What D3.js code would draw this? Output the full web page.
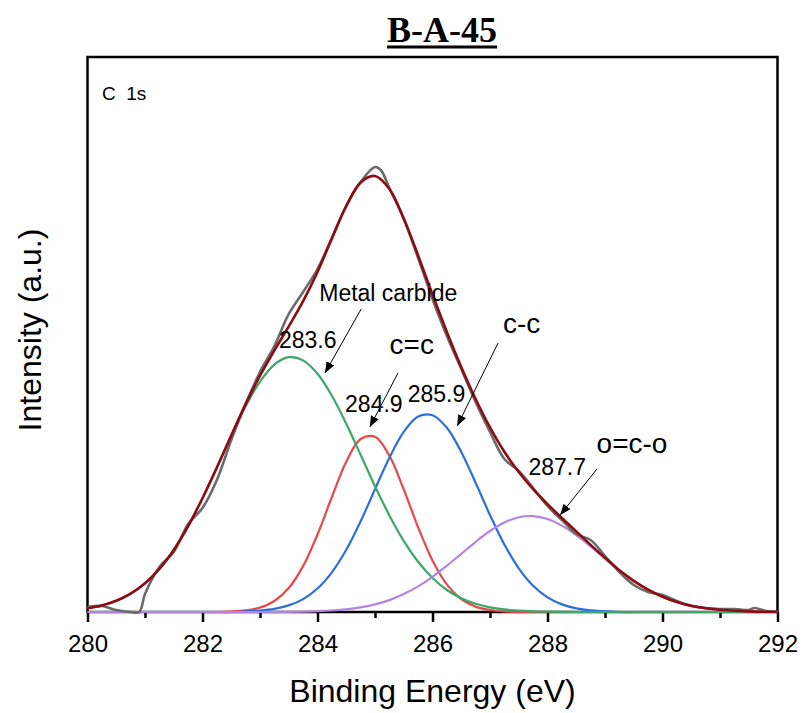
<!DOCTYPE html>
<html>
<head>
<meta charset="utf-8">
<script src="https://cdn.jsdelivr.net/npm/d3@7"></script>
<style>
  body { margin: 0; background: #fff; }
  text { font-family: "Liberation Sans", Arial, sans-serif; fill: #000; }
</style>
</head>
<body>
<svg width="803" height="713"></svg>
<script>
// energy grid of the fitted curves (eV)
var fitEnergy = [280, 280.25, 280.5, 280.75, 281, 281.25, 281.5, 281.75, 282, 282.25,
  282.5, 282.75, 283, 283.25, 283.5, 283.75, 284, 284.25, 284.5, 284.75,
  285, 285.25, 285.5, 285.75, 286, 286.25, 286.5, 286.75, 287, 287.25,
  287.5, 287.75, 288, 288.25, 288.5, 288.75, 289, 289.25, 289.5, 289.75,
  290, 290.25, 290.5, 290.75, 291, 291.25, 291.5, 291.75, 292];

// fitted components (a.u.)
var metalCarbide = [3.7, 6.6, 11.2, 18.3, 28.7, 43.1, 62.1, 85.9, 113.8, 144.5,
  176.1, 205.7, 230.4, 247.4, 254.8, 251.6, 238.2, 216.3, 188.3, 157.2,
  125.8, 96.6, 71.1, 50.2, 34.0, 22.0, 13.7, 8.2, 4.7, 2.6,
  1.4, 0.7, 0.3, 0.1, 0, 0, 0, 0, 0, 0,
  0, 0, 0, 0, 0, 0, 0, 0, 0];
var cDoubleC = [0, 0, 0, 0, 0, 0, 0, 0, 0, 0,
  0.5, 1.6, 4.4, 11.0, 24.0, 45.9, 77.5, 115.0, 150.3, 173.0,
  175.2, 156.2, 122.6, 84.7, 51.5, 27.6, 13.0, 5.4, 2.0, 0.6,
  0, 0, 0, 0, 0, 0, 0, 0, 0, 0,
  0, 0, 0, 0, 0, 0, 0, 0, 0];
var cSingleC = [0, 0, 0, 0, 0, 0, 0, 0, 0, 0,
  0, 0.6, 1.4, 3.1, 6.6, 12.9, 23.5, 39.7, 62.2, 90.7,
  122.7, 154.3, 180.1, 195.4, 196.8, 184.2, 160.1, 129.2, 96.9, 67.5,
  43.7, 26.2, 14.6, 7.6, 3.7, 1.6, 0.7, 0, 0, 0,
  0, 0, 0, 0, 0, 0, 0, 0, 0];
var oCO = [0, 0, 0, 0, 0, 0, 0, 0, 0, 0,
  0, 0, 0, 0, 0.2, 0.4, 0.8, 1.5, 2.7, 4.7,
  7.6, 11.9, 17.9, 25.6, 35.2, 46.3, 58.2, 70.2, 81.0, 89.5,
  94.7, 95.9, 93.0, 86.4, 76.9, 65.5, 53.4, 41.7, 31.2, 22.3,
  15.3, 10.0, 6.3, 3.8, 2.2, 1.2, 0.6, 0.3, 0.2];
var envelope = [3.7, 6.6, 11.2, 18.3, 28.7, 43.1, 62.1, 85.9, 113.8, 144.5,
  176.6, 207.9, 236.3, 261.6, 285.6, 310.8, 340.0, 373.5, 406.0, 429.5,
  436.0, 423.0, 393.5, 356.5, 317.5, 280.1, 245.0, 213.0, 184.6, 160.2,
  140.0, 122.8, 107.9, 94.0, 80.6, 67.1, 54.1, 41.7, 31.2, 22.3,
  15.3, 10.0, 6.3, 3.8, 2.2, 1.2, 0.6, 0.3, 0.2];

// measured spectrum
var rawEnergy = [280, 280.25, 280.5, 280.75, 280.9, 281, 281.25, 281.5, 281.75, 282,
  282.25, 282.5, 282.75, 283, 283.25, 283.5, 283.75, 284, 284.25, 284.5,
  284.75, 285, 285.1, 285.25, 285.5, 285.75, 286, 286.25, 286.5, 286.75,
  287, 287.25, 287.5, 287.75, 288, 288.25, 288.5, 288.75, 289, 289.25,
  289.5, 289.75, 290, 290.25, 290.5, 290.75, 291, 291.25, 291.5, 291.6,
  291.8, 292];
var rawIntensity = [5, 6, 2, 0, 0, 18, 45, 60, 88, 104,
  132, 172, 208, 240, 266, 298, 320, 343, 374, 406,
  430, 445, 442, 424, 393, 354, 313, 276, 243, 210,
  180, 153, 141, 124, 106, 92, 78, 72, 56, 40,
  27, 20, 17, 11, 6, 4, 3, 3, 2, 4,
  1, 0];

var xTicks = [280, 282, 284, 286, 288, 290, 292];
var xMinorTicks = [281, 283, 285, 287, 289, 291];

var components = [
  { key: "c=c", values: cDoubleC, color: "#e8474c" },
  { key: "c-c", values: cSingleC, color: "#2a6fdb" },
  { key: "Metal carbide", values: metalCarbide, color: "#3aa866" },
  { key: "o=c-o", values: oCO, color: "#b584e3" }
];

// annotations in data units
var peakLabels = [
  { text: "283.6", e: 283.83, i: 264 },
  { text: "284.9", e: 284.98, i: 200 },
  { text: "285.9", e: 286.07, i: 210 },
  { text: "287.7", e: 288.17, i: 137 }
];
var bondLabels = [
  { text: "Metal carbide", e: 284.03, i: 311, anchor: "start", size: 23, from: [284.76, 303], to: [284.13, 239] },
  { text: "c=c", e: 285.64, i: 258, anchor: "middle", size: 28, from: [285.40, 239], to: [284.91, 185] },
  { text: "c-c", e: 287.55, i: 279, anchor: "middle", size: 28, from: [287.14, 269], to: [286.43, 186] },
  { text: "o=c-o", e: 289.47, i: 159, anchor: "middle", size: 28, from: [288.86, 143], to: [288.22, 97] }
];

var svg = d3.select("svg");
var padding = { top: 57, right: 25.5, bottom: 101, left: 87.5 };
var width = +svg.attr("width");
var height = +svg.attr("height");

var xScale = d3.scaleLinear()
  .domain([280, 292])
  .range([padding.left, width - padding.right]);

var yScale = d3.scaleLinear()
  .domain([0, height - padding.top - padding.bottom])
  .range([height - padding.bottom, padding.top]);

// title
var title = svg.append("text")
  .attr("x", 442)
  .attr("y", 42)
  .attr("text-anchor", "middle")
  .style("font-family", "'Liberation Serif', 'Times New Roman', serif")
  .style("font-weight", "bold")
  .style("font-size", "36px")
  .text("B-A-45");
var tb = title.node().getBBox();
svg.append("rect")
  .attr("x", tb.x)
  .attr("y", 45.5)
  .attr("width", tb.width)
  .attr("height", 3)
  .attr("fill", "#000");

// axes
svg.append("g")
  .attr("transform", `translate(0, ${yScale(0)})`)
  .call(d3.axisBottom(xScale).tickValues(xTicks).tickSize(10).tickPadding(13).tickFormat(d3.format("d")))
  .call(g => g.select(".domain").remove())
  .call(g => g.selectAll(".tick line").attr("stroke-width", 2.5))
  .call(g => g.selectAll(".tick text")
    .style("font-family", "'Liberation Sans', Arial, sans-serif")
    .style("font-size", "24px"));

svg.append("g")
  .attr("transform", `translate(0, ${yScale(0)})`)
  .call(d3.axisBottom(xScale).tickValues(xMinorTicks).tickSize(6).tickFormat(""))
  .call(g => g.select(".domain").remove())
  .call(g => g.selectAll(".tick line").attr("stroke-width", 2.5));

svg.append("rect")
  .attr("x", xScale(280))
  .attr("y", padding.top)
  .attr("width", xScale(292) - xScale(280))
  .attr("height", yScale(0) - padding.top)
  .attr("fill", "none")
  .attr("stroke", "#000")
  .attr("stroke-width", 2.5);

svg.append("text")
  .attr("x", (xScale(280) + xScale(292)) / 2)
  .attr("y", 702)
  .attr("text-anchor", "middle")
  .style("font-size", "32px")
  .text("Binding Energy (eV)");

svg.append("text")
  .attr("transform", "translate(41, 330) rotate(-90)")
  .attr("text-anchor", "middle")
  .style("font-size", "32px")
  .text("Intensity (a.u.)");

svg.append("text")
  .attr("x", xScale(280.25))
  .attr("y", yScale(512))
  .style("font-size", "19px")
  .style("white-space", "pre")
  .text("C  1s");

// curves
var line = d3.line()
  .x(d => xScale(d[0]))
  .y(d => yScale(d[1]))
  .curve(d3.curveCatmullRom.alpha(0.5));

svg.selectAll(".component")
  .data(components)
  .enter()
  .append("path")
    .classed("component", true)
    .attr("d", d => line(fitEnergy.map((e, i) => [e, d.values[i]])))
    .attr("fill", "none")
    .attr("stroke", d => d.color)
    .attr("stroke-width", 2.2);

svg.append("path")
  .attr("d", line(rawEnergy.map((e, i) => [e, rawIntensity[i]])))
  .attr("fill", "none")
  .attr("stroke", "#6b6b6b")
  .attr("stroke-width", 2.6);

svg.append("path")
  .attr("d", line(fitEnergy.map((e, i) => [e, envelope[i]])))
  .attr("fill", "none")
  .attr("stroke", "#8e0b14")
  .attr("stroke-width", 2.6);

// annotations
svg.append("defs").append("marker")
  .attr("id", "arrow")
  .attr("viewBox", "0 0 10 10")
  .attr("refX", 10)
  .attr("refY", 5)
  .attr("markerWidth", 11)
  .attr("markerHeight", 11)
  .attr("markerUnits", "userSpaceOnUse")
  .attr("orient", "auto")
  .append("path")
    .attr("d", "M0,1 L10,5 L0,9 Z")
    .attr("fill", "#000");

svg.selectAll(".peak")
  .data(peakLabels)
  .enter()
  .append("text")
    .classed("peak", true)
    .attr("x", d => xScale(d.e))
    .attr("y", d => yScale(d.i))
    .attr("text-anchor", "middle")
    .style("font-size", "23px")
    .text(d => d.text);

svg.selectAll(".bond")
  .data(bondLabels)
  .enter()
  .append("text")
    .classed("bond", true)
    .attr("x", d => xScale(d.e))
    .attr("y", d => yScale(d.i))
    .attr("text-anchor", d => d.anchor)
    .style("font-size", d => d.size + "px")
    .text(d => d.text);

svg.selectAll(".arrow")
  .data(bondLabels)
  .enter()
  .append("line")
    .classed("arrow", true)
    .attr("x1", d => xScale(d.from[0]))
    .attr("y1", d => yScale(d.from[1]))
    .attr("x2", d => xScale(d.to[0]))
    .attr("y2", d => yScale(d.to[1]))
    .attr("stroke", "#000")
    .attr("stroke-width", 1)
    .attr("marker-end", "url(#arrow)");
</script>
</body>
</html>
